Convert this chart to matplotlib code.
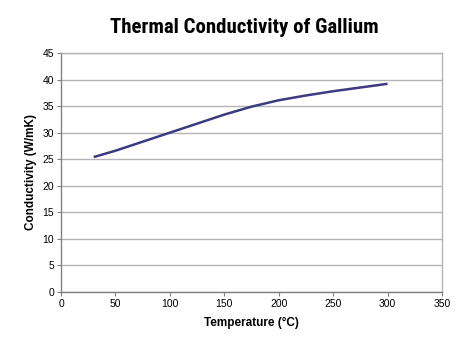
import matplotlib
matplotlib.use("Agg")
import matplotlib.pyplot as plt

# Data
temperature = [30, 50, 75, 100, 125, 150, 175, 200, 225, 250, 275, 300]
conductivity = [25.4, 26.6, 28.3, 30.0, 31.7, 33.4, 34.9, 36.1, 37.0, 37.8, 38.5, 39.2]
x_ticks = [0, 50, 100, 150, 200, 250, 300, 350]
y_ticks = [0, 5, 10, 15, 20, 25, 30, 35, 40, 45]

plt.rcParams['font.family'] = ['Liberation Sans', 'DejaVu Sans']

fig = plt.figure(figsize=(4.74, 3.43), dpi=100)
ax = fig.add_axes([0.1287, 0.1487, 0.8038, 0.6968])

ax.plot(temperature, conductivity, color="#3c3a80", linewidth=1.8,
        solid_capstyle="butt", solid_joinstyle="round")

ax.set_xlim(0, 350)
ax.set_ylim(0, 45)
ax.set_xticks(x_ticks)
ax.set_yticks(y_ticks)
ax.yaxis.grid(True, color="#b4b4b4", linewidth=1.0)
ax.set_axisbelow(True)
ax.tick_params(labelsize=7.5, length=3, width=0.8, color="#808080", pad=2)

for side in ["top", "right"]:
    ax.spines[side].set_color("#b4b4b4")
for side in ["left", "bottom"]:
    ax.spines[side].set_color("#808080")
for s in ax.spines.values():
    s.set_linewidth(1.0)

ax.set_xlabel("Temperature (°C)", fontsize=8.5, fontweight="bold", labelpad=6)
ax.set_ylabel("Conductivity (W/mK)", fontsize=8.5, fontweight="bold", labelpad=4)
fig.text(0.515, 0.92, "Thermal Conductivity of Gallium", ha="center", va="center",
         fontsize=15, fontweight="bold", family=["Roboto Condensed", "DejaVu Sans"])

fig.savefig("out.png", dpi=100)
